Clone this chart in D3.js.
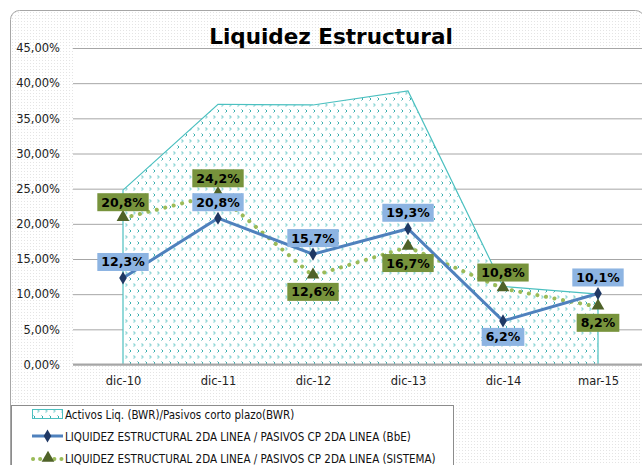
<!DOCTYPE html>
<html>
<head>
<meta charset="utf-8">
<script src="https://cdn.jsdelivr.net/npm/d3@7"></script>
<style>
  body { margin: 0; background: #fff; }
  text { font-family: "DejaVu Sans", Verdana, sans-serif; }
</style>
</head>
<body>
<script>
// data
var categories = ["dic-10", "dic-11", "dic-12", "dic-13", "dic-14", "mar-15"];
var activos = [24.8, 37.0, 36.9, 38.9, 11.1, 10.0];   // Activos Liq./Pasivos corto plazo (BWR)
var bbe = [12.3, 20.8, 15.7, 19.3, 6.2, 10.1];        // BbE
var sistema = [20.8, 24.2, 12.6, 16.7, 10.8, 8.2];    // SISTEMA
var yTicks = [0, 5, 10, 15, 20, 25, 30, 35, 40, 45];
var bbeLabelSide = ["top", "top", "top", "top", "bottom", "top"];
var sisLabelSide = ["top", "top", "bottom", "bottom", "top", "bottom"];
var legendNames = [
  "Activos Liq. (BWR)/Pasivos corto plazo(BWR)",
  "LIQUIDEZ ESTRUCTURAL 2DA LINEA / PASIVOS CP 2DA LINEA (BbE)",
  "LIQUIDEZ ESTRUCTURAL 2DA LINEA / PASIVOS CP 2DA LINEA (SISTEMA)"
];

var width = 642, height = 465;

var svg = d3.select("body").append("svg")
  .attr("width", width)
  .attr("height", height);

var defs = svg.append("defs");

// faint dotted texture of the chart area
var bg = defs.append("pattern").attr("id", "bgdots")
  .attr("patternUnits", "userSpaceOnUse").attr("width", 3).attr("height", 3);
bg.append("rect").attr("width", 3).attr("height", 3).attr("fill", "#fff");
bg.append("rect").attr("width", 1).attr("height", 1).attr("fill", "#e4e4e4");

// teal zigzag fill of the area
var zz = defs.append("pattern").attr("id", "zigzag")
  .attr("patternUnits", "userSpaceOnUse").attr("width", 8).attr("height", 12);
zz.append("rect").attr("width", 8).attr("height", 12).attr("fill", "#fff");
zz.append("path").attr("d", "M1.5,1.5 L3,3 L1.5,4.5").attr("fill", "none")
  .attr("stroke", "#3aaeae").attr("stroke-width", 1);
zz.append("path").attr("d", "M5.5,7.5 L7,9 L5.5,10.5").attr("fill", "none")
  .attr("stroke", "#8fd6d6").attr("stroke-width", 1.3);

// chart frame
svg.append("rect")
  .attr("x", 10.5).attr("y", 10.5)
  .attr("width", 634).attr("height", 520)
  .attr("rx", 9)
  .attr("fill", "url(#bgdots)")
  .attr("stroke", "#a6a6a6");

var plot = { left: 73, right: 645, top: 48, bottom: 365 };

svg.append("rect")
  .attr("x", plot.left).attr("y", plot.top)
  .attr("width", plot.right - plot.left).attr("height", plot.bottom - plot.top)
  .attr("fill", "#fff");

var x = d3.scalePoint().domain(categories).range([123, 598]);
var y = d3.scaleLinear().domain([0, 45]).range([plot.bottom - 0.5, plot.top]);

// title
svg.append("text")
  .attr("x", 331).attr("y", 44)
  .attr("text-anchor", "middle")
  .style("font-size", "21.5px").style("font-weight", "bold")
  .attr("fill", "#000")
  .text("Liquidez Estructural");

// gridlines + y labels
var yAxis = d3.axisLeft(y).tickValues(yTicks)
  .tickSize(-(plot.right - plot.left))
  .tickFormat(function (d) { return d3.format(".2f")(d).replace(".", ",") + "%"; });

var gy = svg.append("g")
  .attr("transform", "translate(" + plot.left + ",0)")
  .call(yAxis);
gy.select(".domain").remove();
gy.selectAll(".tick line").attr("stroke", "#a6a6a6");
gy.selectAll(".tick text")
  .attr("x", -13)
  .style("font-size", "11.5px")
  .style("font-family", "DejaVu Sans, sans-serif")
  .attr("fill", "#222");

// area
var area = d3.area()
  .x(function (d, i) { return x(categories[i]); })
  .y0(y(0))
  .y1(function (d) { return y(d); });

svg.append("path")
  .datum(activos)
  .attr("d", area)
  .attr("fill", "url(#zigzag)")
  .attr("stroke", "#4cc0c0")
  .attr("stroke-width", 1.2);

// bottom axis line
svg.append("line")
  .attr("x1", plot.left).attr("x2", plot.right)
  .attr("y1", y(0)).attr("y2", y(0))
  .attr("stroke", "#a6a6a6").attr("stroke-width", 2);

// x labels
var xAxis = d3.axisBottom(x).tickSize(0).tickPadding(12);
var gx = svg.append("g")
  .attr("transform", "translate(0," + y(0) + ")")
  .call(xAxis);
gx.select(".domain").remove();
gx.selectAll(".tick text")
  .style("font-size", "11.5px")
  .style("font-family", "DejaVu Sans, sans-serif")
  .attr("fill", "#222");

var line = d3.line()
  .x(function (d, i) { return x(categories[i]); })
  .y(function (d) { return y(d); });

// SISTEMA dotted line
svg.append("path")
  .datum(sistema)
  .attr("d", line)
  .attr("fill", "none")
  .attr("stroke", "#9bbb59")
  .attr("stroke-width", 4)
  .attr("stroke-linecap", "round")
  .attr("stroke-dasharray", "0.1 8.6");

// BbE line
svg.append("path")
  .datum(bbe)
  .attr("d", line)
  .attr("fill", "none")
  .attr("stroke", "#4f81bd")
  .attr("stroke-width", 3);

var tri = d3.symbol().type(d3.symbolTriangle).size(70);
var dia = d3.symbol().type(d3.symbolDiamond).size(50);

svg.append("g").selectAll("path")
  .data(sistema)
  .enter().append("path")
  .attr("transform", function (d, i) { return "translate(" + x(categories[i]) + "," + (y(d) - 1) + ")"; })
  .attr("d", tri)
  .attr("fill", "#4f6228");

svg.append("g").selectAll("path")
  .data(bbe)
  .enter().append("path")
  .attr("transform", function (d, i) { return "translate(" + x(categories[i]) + "," + y(d) + ")"; })
  .attr("d", dia)
  .attr("fill", "#1f3864");

// data labels
function labels(values, sides, fill) {
  var g = svg.append("g").selectAll("g")
    .data(values)
    .enter().append("g");
  g.each(function (d, i) {
    var el = d3.select(this);
    var t = el.append("text")
      .attr("text-anchor", "middle")
      .style("font-size", "12.5px").style("font-weight", "bold")
      .attr("fill", "#000")
      .text(d3.format(".1f")(d).replace(".", ",") + "%");
    var w = t.node().getComputedTextLength() + 8, h = 18;
    var cx = x(categories[i]), py = y(d);
    var top = sides[i] === "top" ? py - 7 - h : py + 7;
    el.insert("rect", "text")
      .attr("x", cx - w / 2).attr("y", top)
      .attr("width", w).attr("height", h)
      .attr("fill", fill);
    t.attr("x", cx).attr("y", top + 13.5);
  });
}
labels(bbe, bbeLabelSide, "#8db4e2");
labels(sistema, sisLabelSide, "#77933c");

// legend
var lg = svg.append("g");
lg.append("rect")
  .attr("x", 11.5).attr("y", 405.5)
  .attr("width", 442).attr("height", 80)
  .attr("fill", "#fff").attr("stroke", "#8c8c8c");

var rows = lg.selectAll("g.row")
  .data(legendNames)
  .enter().append("g")
  .attr("class", "row")
  .attr("transform", function (d, i) { return "translate(0," + (414 + i * 22) + ")"; });

rows.append("text")
  .attr("x", 65).attr("y", 4.5)
  .style("font-size", "11.5px")
  .style("font-family", "DejaVu Sans Condensed, DejaVu Sans, sans-serif")
  .attr("fill", "#111")
  .text(function (d) { return d; });

var r0 = d3.select(rows.nodes()[0]);
r0.append("rect").attr("x", 32.5).attr("y", -4.5).attr("width", 30).attr("height", 9)
  .attr("fill", "url(#zigzag)").attr("stroke", "#4cc0c0");

var r1 = d3.select(rows.nodes()[1]);
r1.append("line").attr("x1", 32).attr("x2", 63).attr("y1", 0).attr("y2", 0)
  .attr("stroke", "#4f81bd").attr("stroke-width", 3);
r1.append("path").attr("transform", "translate(47.5,0)").attr("d", dia).attr("fill", "#1f3864");

var r2 = d3.select(rows.nodes()[2]);
r2.append("line").attr("x1", 33).attr("x2", 63).attr("y1", 1).attr("y2", 1)
  .attr("stroke", "#9bbb59").attr("stroke-width", 4)
  .attr("stroke-linecap", "round").attr("stroke-dasharray", "0.1 7");
r2.append("path").attr("transform", "translate(48,0)").attr("d", tri).attr("fill", "#4f6228");
</script>
</body>
</html>
